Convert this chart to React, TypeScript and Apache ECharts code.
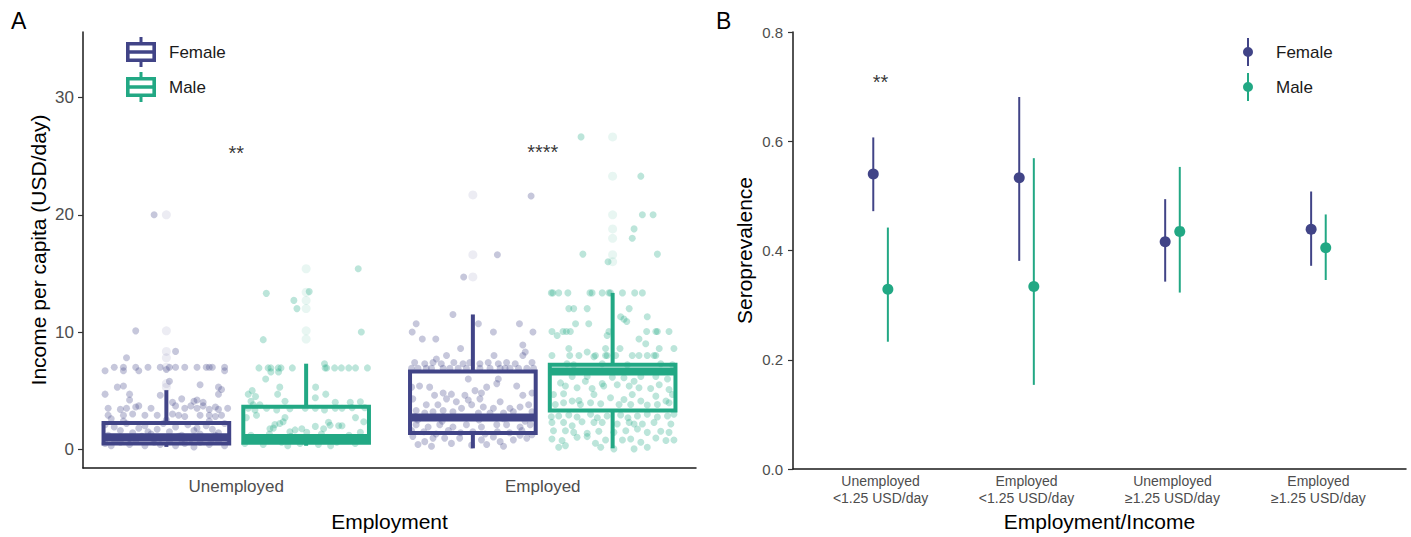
import React, { useEffect, useRef } from 'react';
import * as echarts from 'echarts';

// ---------- Data ----------
const categoriesA = ['Unemployed', 'Employed'];
const groupsA = ['Female', 'Male'];

// box stats: [min, q1, median, q3, max] per category
const femaleBox = [
  [0.2, 0.48, 1.02, 2.25, 5.04],
  [0.08, 1.39, 2.7, 6.63, 11.5],
];
const maleBox = [
  [0.3, 0.55, 0.95, 3.63, 7.3],
  [0.08, 3.31, 6.63, 7.22, 13.34],
];

// outliers per category
const femaleOutliers = [
  [20.0, 10.1, 8.35, 7.8, 7.0, 5.6, 5.3],
  [21.7, 16.6, 14.7],
];
const maleOutliers = [
  [15.4, 13.4, 12.7, 12.0, 10.1, 9.4],
  [26.65, 23.3, 20.0, 18.8, 18.0, 16.6, 16.0],
];

// jittered observations: [jitter, income]
const femaleUnemployedPts = [
  [-0.04, 20.0], [-0.10, 10.1], [0.03, 8.35], [-0.13, 7.8],
  [-0.17, 7.0], [-0.14, 7.0], [-0.10, 7.0], [-0.06, 7.0], [-0.02, 7.0], [0.01, 7.0], [0.03, 7.0], [0.06, 7.0], [0.10, 7.0], [0.13, 7.0], [0.14, 7.0], [0.15, 7.0], [0.19, 7.0],
  [-0.20, 6.7], [-0.14, 6.7], [-0.09, 6.7], [0.19, 6.7], [0.0, 6.8],
  [0.01, 5.8], [0.11, 5.5], [-0.16, 5.3], [-0.14, 5.4], [0.17, 5.3], [0.18, 5.1],
  [-0.20, 4.7], [-0.12, 4.7], [-0.02, 4.6], [0.17, 4.7],
  [-0.12, 4.2], [0.05, 4.3], [0.02, 4.0], [0.09, 4.1], [0.10, 4.2], [0.12, 4.0],
  [-0.19, 3.5], [-0.15, 3.4], [-0.13, 3.5], [-0.10, 3.6], [-0.09, 3.7], [-0.05, 3.5], [0.03, 3.7], [0.06, 3.5], [0.08, 3.7], [0.10, 3.5], [0.12, 3.7], [0.14, 3.4], [0.16, 3.6], [0.17, 3.4], [0.20, 3.5],
  [-0.19, 2.9], [-0.14, 2.9], [-0.11, 3.0], [-0.07, 2.9], [-0.03, 2.9], [0.02, 3.0], [0.04, 2.9], [0.06, 2.8], [0.11, 2.9], [0.14, 2.9], [0.16, 2.8], [0.18, 2.9], [-0.18, 2.6],
  [-0.14, 2.4], [0.0, 2.5], [0.14, 2.4],
  [-0.20, 2.1], [-0.17, 1.9], [-0.15, 1.6], [-0.13, 2.2], [-0.11, 1.4], [-0.09, 1.8], [-0.07, 2.0], [-0.05, 1.3], [-0.03, 1.7], [-0.01, 2.2], [0.01, 1.5], [0.03, 1.9], [0.05, 1.2], [0.07, 2.1], [0.09, 1.6], [0.11, 1.3], [0.13, 2.0], [0.15, 1.7], [0.17, 1.4], [0.19, 2.2], [-0.06, 1.5], [0.10, 1.8],
  [-0.19, 1.2], [-0.16, 1.0], [-0.12, 0.9], [-0.08, 1.1], [-0.04, 0.9], [0.0, 1.0], [0.04, 1.1], [0.08, 0.9], [0.12, 1.0], [0.16, 1.2], [0.20, 0.9],
  [-0.20, 0.5], [-0.18, 0.3], [-0.15, 0.6], [-0.12, 0.4], [-0.10, 0.7], [-0.07, 0.3], [-0.04, 0.6], [-0.02, 0.4], [0.01, 0.7], [0.03, 0.3], [0.06, 0.5], [0.09, 0.2], [0.11, 0.6], [0.14, 0.4], [0.17, 0.7], [0.19, 0.3], [-0.17, 0.8], [0.05, 0.8], [0.15, 0.9],
];

const maleUnemployedPts = [
  [0.17, 15.4], [-0.13, 13.3], [0.01, 13.45], [-0.04, 12.7], [-0.03, 12.0], [0.18, 10.0], [-0.14, 9.35],
  [-0.154, 6.94], [-0.124, 6.94], [-0.115, 6.94], [-0.091, 6.94], [-0.082, 6.94], [-0.045, 6.94], [0.062, 6.94], [0.067, 6.94], [0.093, 6.94], [0.115, 6.94], [0.139, 6.94], [0.161, 6.94], [0.2, 6.94], [0.06, 7.3], [-0.09, 6.6], [-0.115, 6.6],
  [-0.132, 6.0], [-0.086, 5.3], [0.031, 5.3], [-0.176, 5.0], [-0.189, 4.7], [-0.165, 4.5], [-0.093, 4.7], [0.03, 4.4], [0.064, 4.7],
  [-0.18, 4.1], [-0.173, 3.8], [-0.151, 3.8], [-0.069, 4.1], [0.095, 4.0], [0.144, 4.0], [0.177, 4.05],
  [-0.189, 3.5], [-0.167, 3.35], [-0.162, 2.9], [-0.129, 3.5], [-0.096, 3.35], [-0.053, 3.45], [-0.003, 3.5], [0.03, 3.5], [0.06, 3.35], [0.095, 3.5], [0.117, 3.5], [0.15, 3.55], [0.191, 3.55],
  [-0.195, 2.7], [-0.069, 2.7], [-0.075, 2.35], [-0.102, 2.1], [-0.118, 1.75], [-0.107, 1.8], [-0.053, 1.5], [-0.036, 1.65], [-0.014, 1.75], [0.002, 1.45], [0.03, 1.95], [0.073, 2.3], [0.078, 2.05], [0.106, 2.0], [0.117, 2.0], [0.161, 2.7], [0.188, 2.35], [0.057, 1.75], [-0.086, 2.2], [0.177, 1.45],
  [-0.2, 0.5], [-0.17, 0.8], [-0.14, 0.4], [-0.11, 0.9], [-0.08, 0.6], [-0.05, 1.1], [-0.02, 0.5], [0.01, 0.8], [0.04, 0.4], [0.07, 1.0], [0.10, 0.6], [0.13, 0.9], [0.16, 0.5], [0.19, 0.8], [-0.18, 1.2], [-0.12, 1.3], [0.05, 1.3], [0.14, 1.2], [-0.06, 0.3], [0.08, 0.3],
];

const femaleEmployedPts = [
  [0.19, 21.6], [0.08, 16.6], [-0.03, 14.7],
  [-0.065, 11.5], [-0.185, 10.7], [0.018, 10.7], [0.152, 10.7], [-0.198, 10.0], [0.067, 10.0], [0.196, 10.0],
  [-0.165, 9.4], [-0.121, 9.4], [-0.04, 8.6], [0.163, 8.9], [0.171, 8.3], [0.163, 8.0], [-0.086, 8.0], [-0.119, 7.7], [0.069, 8.0],
  [-0.19, 7.4], [-0.157, 7.3], [-0.13, 7.4], [-0.103, 7.3], [-0.062, 7.4], [-0.032, 7.3], [-0.01, 7.4], [0.023, 7.3], [0.05, 7.4], [0.083, 7.3], [0.11, 7.4], [0.138, 7.3], [0.193, 7.4],
  [-0.2, 6.9], [-0.179, 6.9], [-0.152, 6.9], [-0.135, 6.9], [-0.097, 6.9], [-0.075, 6.9], [-0.048, 6.9], [-0.021, 6.9], [0.023, 6.9], [0.056, 6.9], [0.089, 6.9], [0.105, 6.9], [0.121, 6.9], [0.149, 6.9], [0.176, 6.9], [0.198, 6.9],
  [-0.015, 6.0], [0.083, 6.0], [0.078, 5.6], [0.045, 5.3], [-0.2, 5.3], [-0.174, 5.4], [-0.141, 5.3], [-0.097, 4.8], [-0.07, 4.7], [-0.125, 4.6], [-0.026, 4.6], [0.028, 4.8], [0.007, 5.0], [0.143, 5.4], [0.163, 4.6], [0.193, 4.8],
  [-0.196, 4.3], [-0.152, 3.8], [-0.114, 3.8], [-0.086, 4.3], [-0.054, 4.05], [-0.015, 4.2], [0.023, 4.3], [0.034, 3.6], [0.089, 4.05], [0.121, 3.5], [0.154, 3.6], [0.182, 3.8],
  [-0.185, 3.3], [-0.157, 3.1], [-0.13, 3.2], [-0.097, 3.3], [-0.065, 3.2], [-0.037, 3.5], [-0.004, 3.8], [0.018, 3.1], [0.056, 3.1], [0.067, 3.5], [0.1, 3.1], [0.132, 3.2], [0.193, 3.2], [-0.19, 2.8],
  [-0.185, 2.1], [-0.146, 1.9], [-0.108, 2.1], [-0.065, 1.9], [-0.021, 2.1], [0.028, 1.9], [0.078, 2.1], [0.11, 2.1], [0.154, 1.9], [0.187, 2.1],
  [-0.2, 1.6], [-0.196, 1.1], [-0.179, 0.4], [-0.157, 0.65], [-0.135, 0.25], [-0.13, 0.95], [-0.092, 0.95], [-0.07, 0.5], [-0.043, 0.95], [-0.004, 0.35], [0.028, 0.8], [0.045, 0.4], [0.067, 1.05], [0.089, 0.65], [0.1, 0.25], [0.132, 0.8], [0.154, 1.2], [0.176, 0.95], [0.193, 1.25],
  [-0.16, 1.5], [-0.12, 1.3], [-0.08, 1.6], [-0.04, 1.4], [0.0, 1.5], [0.04, 1.3], [0.08, 1.5], [0.12, 1.4], [0.16, 1.6], [-0.18, 2.5], [-0.1, 2.4], [0.02, 2.5], [0.1, 2.6], [0.17, 2.4],
];

const maleEmployedPts = [
  [-0.103, 26.65], [0.092, 23.3], [0.097, 20.0], [0.132, 20.0], [0.07, 18.8], [0.064, 18.0], [-0.097, 16.65], [0.146, 16.65], [-0.015, 16.0],
  [-0.2, 13.34], [-0.195, 13.34], [-0.176, 13.34], [-0.146, 13.34], [-0.074, 13.34], [-0.067, 13.34], [-0.034, 13.34], [-0.012, 13.34], [-0.007, 13.34], [0.032, 13.34], [0.072, 13.34], [0.097, 13.34],
  [-0.143, 12.0], [-0.127, 12.0], [-0.083, 12.0], [0.054, 12.0],
  [0.026, 11.3], [0.037, 11.1], [0.046, 10.9], [0.113, 11.3], [-0.121, 10.7], [-0.078, 10.7],
  [-0.198, 10.05], [-0.162, 10.05], [-0.151, 10.05], [-0.138, 10.05], [-0.012, 10.05], [0.111, 10.05], [0.141, 10.05], [0.146, 10.05], [0.184, 10.05],
  [-0.181, 9.7], [-0.018, 9.7], [0.086, 9.4], [0.108, 9.0], [-0.143, 8.6], [0.024, 8.6], [0.152, 8.6], [0.2, 8.6], [-0.023, 8.6], [-0.083, 8.3], [-0.061, 7.9],
  [-0.198, 8.0], [-0.14, 8.0], [-0.11, 8.0], [-0.056, 8.0], [-0.023, 8.0], [-0.018, 8.0], [0.01, 8.0], [0.064, 8.0], [0.086, 8.0], [0.113, 8.0], [0.135, 8.0], [0.141, 8.0],
  [-0.149, 7.3], [-0.127, 7.2], [-0.034, 7.3], [0.048, 7.2], [0.157, 7.3], [0.195, 7.2],
  [-0.132, 6.2], [-0.083, 6.2], [-0.089, 5.8], [-0.034, 5.6], [-0.001, 6.15], [0.037, 6.1], [0.07, 5.8], [0.092, 6.2], [0.141, 6.2], [0.179, 6.0],
  [-0.17, 5.66], [-0.154, 5.4], [-0.116, 5.24], [-0.067, 5.18], [-0.029, 5.4], [0.015, 5.5], [0.054, 5.4], [0.086, 5.24], [0.124, 5.18], [0.152, 5.5], [0.184, 5.1],
  [-0.193, 4.67], [-0.16, 4.73], [-0.132, 4.11], [-0.11, 4.16], [-0.061, 4.67], [-0.007, 4.39], [0.037, 4.25], [0.064, 4.67], [0.092, 4.11], [0.141, 4.53], [0.174, 4.11], [0.195, 4.67],
  [-0.187, 3.82], [-0.16, 3.97], [-0.105, 3.82], [-0.072, 3.97], [-0.039, 3.88], [0.021, 3.82], [0.059, 3.82], [0.113, 3.77], [0.146, 3.82], [0.184, 3.97],
  [-0.2, 2.78], [-0.176, 2.83], [-0.143, 2.92], [-0.116, 2.75], [-0.072, 2.98], [-0.05, 2.69], [-0.018, 2.83], [0.026, 2.92], [0.05, 2.69], [0.081, 2.83], [0.113, 2.98], [0.146, 2.75], [0.179, 2.83], [0.2, 2.98],
  [-0.198, 2.29], [-0.16, 2.29], [-0.132, 2.0], [-0.1, 2.35], [-0.061, 2.29], [-0.034, 2.29], [0.015, 2.15], [0.054, 2.29], [0.07, 2.15], [0.097, 2.15], [0.135, 2.29], [0.19, 2.15],
  [-0.193, 1.58], [-0.154, 1.58], [-0.127, 1.44], [-0.083, 1.36], [-0.045, 1.53], [0.004, 1.44], [0.043, 1.58], [0.081, 1.72], [0.113, 1.44], [0.157, 1.53], [0.184, 1.44],
  [-0.198, 0.88], [-0.165, 0.74], [-0.154, 0.31], [-0.116, 1.02], [-0.083, 1.08], [-0.056, 0.51], [-0.023, 0.79], [0.032, 0.79], [0.059, 0.88], [0.092, 0.6], [0.141, 0.96], [0.174, 0.74], [0.2, 0.79],
  [-0.176, 0.17], [-0.039, 0.17], [0.004, 0.03], [0.07, 0.03], [0.113, 0.17],
];

const yTicksA = [0, 10, 20, 30];
const annotationsA = [
  { cat: 0, y: 25.3, text: '**' },
  { cat: 1, y: 25.4, text: '****' },
];

// Panel B
const categoriesB = [
  'Unemployed\n<1.25 USD/day',
  'Employed\n<1.25 USD/day',
  'Unemployed\n≥1.25 USD/day',
  'Employed\n≥1.25 USD/day',
];
const femaleEst = [0.540, 0.533, 0.416, 0.439];
const femaleLow = [0.472, 0.381, 0.343, 0.372];
const femaleHigh = [0.607, 0.681, 0.494, 0.508];
const maleEst = [0.329, 0.334, 0.435, 0.405];
const maleLow = [0.233, 0.154, 0.323, 0.346];
const maleHigh = [0.442, 0.569, 0.553, 0.466];
const annotationsB = [{ cat: 0, y: 0.708, text: '**' }];

// ---------- Styles ----------
const FEMALE = '#414487';
const MALE = '#22A884';
const FONT = '"Liberation Sans", Arial, Helvetica, sans-serif';
const DODGE_A = 0.228;
const BOX_HALF = 0.205;
const DODGE_B = 0.05;

const BOX_ICON =
  'path://M0,5 L30,5 L30,25 L0,25 Z M3.6,8.6 L3.6,13.2 L26.4,13.2 L26.4,8.6 Z M3.6,16.8 L3.6,21.4 L26.4,21.4 L26.4,16.8 Z M13.5,0 L16.5,0 L16.5,5 L13.5,5 Z M13.5,25 L16.5,25 L16.5,30 L13.5,30 Z';
const POINT_ICON =
  'path://M4,0 L6,0 L6,28 L4,28 Z M0,14 A5,5 0 1,1 10,14 A5,5 0 1,1 0,14 Z';

function boxRender(offset: number, color: string) {
  return (_params: any, api: any) => {
    const c = api.value(0) + offset;
    const lo = api.value(1), q1 = api.value(2), med = api.value(3), q3 = api.value(4), hi = api.value(5);
    const tl = api.coord([c - BOX_HALF, q3]);
    const br = api.coord([c + BOX_HALF, q1]);
    const m1 = api.coord([c - BOX_HALF, med]);
    const m2 = api.coord([c + BOX_HALF, med]);
    const top = api.coord([c, hi]);
    const bot = api.coord([c, lo]);
    const cq3 = api.coord([c, q3]);
    const cq1 = api.coord([c, q1]);
    return {
      type: 'group',
      children: [
        { type: 'line', shape: { x1: top[0], y1: top[1], x2: cq3[0], y2: cq3[1] }, style: { stroke: color, lineWidth: 4 } },
        { type: 'line', shape: { x1: cq1[0], y1: cq1[1], x2: bot[0], y2: bot[1] }, style: { stroke: color, lineWidth: 4 } },
        { type: 'rect', shape: { x: tl[0], y: tl[1], width: br[0] - tl[0], height: br[1] - tl[1] }, style: { fill: 'none', stroke: color, lineWidth: 4 } },
        { type: 'line', shape: { x1: m1[0], y1: m1[1], x2: m2[0], y2: m2[1] }, style: { stroke: color, lineWidth: 8 } },
      ],
    };
  };
}

function errRender(offset: number, color: string) {
  return (_params: any, api: any) => {
    const c = api.value(0) + offset;
    const p1 = api.coord([c, api.value(1)]);
    const p2 = api.coord([c, api.value(2)]);
    return { type: 'line', shape: { x1: p1[0], y1: p1[1], x2: p2[0], y2: p2[1] }, style: { stroke: color, lineWidth: 2 } };
  };
}

const jitterData = (cat: number, offset: number, pts: number[][]) => pts.map(([j, v]) => [cat + offset + j, v]);
const outlierData = (offset: number, outs: number[][]) =>
  outs.flatMap((vals, cat) => vals.map((v) => [cat + offset, v]));

function buildOption() {
  const axisLineStyle = { color: '#1a1a1a', width: 1.5 };
  const tickStyle = { color: '#333', width: 1.2 };
  return {
    animation: false,
    backgroundColor: '#fff',
    textStyle: { fontFamily: FONT },
    graphic: [
      { type: 'text', left: 11, top: 9, style: { text: 'A', fontSize: 23, fill: '#000', fontFamily: FONT } },
      { type: 'text', left: 716, top: 9, style: { text: 'B', fontSize: 23, fill: '#000', fontFamily: FONT } },
    ],
    legend: [
      {
        data: groupsA.map((n) => ({ name: n, icon: BOX_ICON })),
        orient: 'vertical',
        left: 126,
        top: 37,
        padding: 0,
        itemWidth: 30,
        itemHeight: 30,
        itemGap: 5,
        selectedMode: false,
        itemStyle: { opacity: 1, borderWidth: 0 },
        textStyle: { fontSize: 17, color: '#1a1a1a', fontFamily: FONT, padding: [0, 0, 0, 8] },
      },
      {
        data: groupsA.map((n) => ({ name: n, icon: POINT_ICON })),
        orient: 'vertical',
        left: 1243,
        top: 38,
        padding: 0,
        itemWidth: 10,
        itemHeight: 28,
        itemGap: 7,
        selectedMode: false,
        itemStyle: { opacity: 1, borderWidth: 0 },
        textStyle: { fontSize: 17, color: '#1a1a1a', fontFamily: FONT, padding: [0, 0, 0, 18] },
      },
    ],
    grid: [
      { left: 83, right: 715, top: 32, bottom: 67 },
      { left: 793, right: 5, top: 32, bottom: 66 },
    ],
    xAxis: [
      {
        gridIndex: 0,
        type: 'value',
        min: -0.5,
        max: 1.5,
        axisLine: { show: true, onZero: false, lineStyle: axisLineStyle },
        axisTick: { show: false },
        splitLine: { show: false },
        axisLabel: {
          customValues: [0, 1],
          formatter: (v: number) => categoriesA[Math.round(v)],
          color: '#4d4d4d',
          fontSize: 17,
          margin: 10,
        },
        name: 'Employment',
        nameLocation: 'middle',
        nameGap: 43,
        nameTextStyle: { fontSize: 21, color: '#000', fontFamily: FONT },
      },
      {
        gridIndex: 1,
        type: 'value',
        min: -0.6,
        max: 3.6,
        axisLine: { show: true, onZero: false, lineStyle: axisLineStyle },
        axisTick: { show: false },
        splitLine: { show: false },
        axisLabel: {
          customValues: [0, 1, 2, 3],
          formatter: (v: number) => categoriesB[Math.round(v)],
          color: '#4d4d4d',
          fontSize: 14,
          lineHeight: 16.5,
          margin: 4,
        },
        name: 'Employment/Income',
        nameLocation: 'middle',
        nameGap: 42,
        nameTextStyle: { fontSize: 21, color: '#000', fontFamily: FONT },
      },
    ],
    yAxis: [
      {
        gridIndex: 0,
        type: 'value',
        min: -1.6,
        max: 35.6,
        axisLine: { show: true, onZero: false, lineStyle: axisLineStyle },
        axisTick: { show: true, customValues: yTicksA, length: 5, lineStyle: tickStyle },
        axisLabel: { customValues: yTicksA, color: '#4d4d4d', fontSize: 17, margin: 9 },
        splitLine: { show: false },
        name: 'Income per capita (USD/day)',
        nameLocation: 'middle',
        nameGap: 34,
        nameTextStyle: { fontSize: 21, color: '#000', fontFamily: FONT },
      },
      {
        gridIndex: 1,
        type: 'value',
        min: 0,
        max: 0.8,
        interval: 0.2,
        axisLine: { show: true, onZero: false, lineStyle: axisLineStyle },
        axisTick: { show: true, length: 5, lineStyle: tickStyle },
        axisLabel: { formatter: (v: number) => v.toFixed(1), color: '#4d4d4d', fontSize: 15, margin: 10 },
        splitLine: { show: false },
        name: 'Seroprevalence',
        nameLocation: 'middle',
        nameGap: 38,
        nameTextStyle: { fontSize: 21, color: '#000', fontFamily: FONT },
      },
    ],
    series: [
      {
        name: 'Female',
        type: 'custom',
        xAxisIndex: 0,
        yAxisIndex: 0,
        z: 4,
        silent: true,
        itemStyle: { color: FEMALE },
        renderItem: boxRender(-DODGE_A, FEMALE),
        encode: { x: 0, y: [1, 2, 3, 4, 5] },
        data: femaleBox.map((b, i) => [i, ...b]),
      },
      {
        name: 'Male',
        type: 'custom',
        xAxisIndex: 0,
        yAxisIndex: 0,
        z: 4,
        silent: true,
        itemStyle: { color: MALE },
        renderItem: boxRender(DODGE_A, MALE),
        encode: { x: 0, y: [1, 2, 3, 4, 5] },
        data: maleBox.map((b, i) => [i, ...b]),
      },
      {
        name: 'Female',
        type: 'scatter',
        xAxisIndex: 0,
        yAxisIndex: 0,
        z: 2,
        silent: true,
        symbolSize: 7,
        itemStyle: { color: FEMALE, opacity: 0.3 },
        data: [...jitterData(0, -DODGE_A, femaleUnemployedPts), ...jitterData(1, -DODGE_A, femaleEmployedPts)],
      },
      {
        name: 'Male',
        type: 'scatter',
        xAxisIndex: 0,
        yAxisIndex: 0,
        z: 2,
        silent: true,
        symbolSize: 7,
        itemStyle: { color: MALE, opacity: 0.3 },
        data: [...jitterData(0, DODGE_A, maleUnemployedPts), ...jitterData(1, DODGE_A, maleEmployedPts)],
      },
      {
        name: 'Female',
        type: 'scatter',
        xAxisIndex: 0,
        yAxisIndex: 0,
        z: 3,
        silent: true,
        symbolSize: 9,
        itemStyle: { color: FEMALE, opacity: 0.1 },
        data: outlierData(-DODGE_A, femaleOutliers),
      },
      {
        name: 'Male',
        type: 'scatter',
        xAxisIndex: 0,
        yAxisIndex: 0,
        z: 3,
        silent: true,
        symbolSize: 9,
        itemStyle: { color: MALE, opacity: 0.1 },
        data: outlierData(DODGE_A, maleOutliers),
      },
      {
        name: 'annotA',
        type: 'scatter',
        xAxisIndex: 0,
        yAxisIndex: 0,
        silent: true,
        symbolSize: 1,
        itemStyle: { color: 'transparent' },
        label: { show: true, position: 'inside', color: '#000', fontSize: 20, fontFamily: FONT },
        data: annotationsA.map((a) => ({ value: [a.cat, a.y], label: { formatter: a.text } })),
      },
      // Panel B
      {
        name: 'Female',
        type: 'custom',
        xAxisIndex: 1,
        yAxisIndex: 1,
        silent: true,
        itemStyle: { color: FEMALE },
        renderItem: errRender(-DODGE_B, FEMALE),
        encode: { x: 0, y: [1, 2] },
        data: femaleEst.map((_, i) => [i, femaleLow[i], femaleHigh[i]]),
      },
      {
        name: 'Male',
        type: 'custom',
        xAxisIndex: 1,
        yAxisIndex: 1,
        silent: true,
        itemStyle: { color: MALE },
        renderItem: errRender(DODGE_B, MALE),
        encode: { x: 0, y: [1, 2] },
        data: maleEst.map((_, i) => [i, maleLow[i], maleHigh[i]]),
      },
      {
        name: 'Female',
        type: 'scatter',
        xAxisIndex: 1,
        yAxisIndex: 1,
        silent: true,
        z: 3,
        symbolSize: 11,
        itemStyle: { color: FEMALE, opacity: 1 },
        data: femaleEst.map((v, i) => [i - DODGE_B, v]),
      },
      {
        name: 'Male',
        type: 'scatter',
        xAxisIndex: 1,
        yAxisIndex: 1,
        silent: true,
        z: 3,
        symbolSize: 11,
        itemStyle: { color: MALE, opacity: 1 },
        data: maleEst.map((v, i) => [i + DODGE_B, v]),
      },
      {
        name: 'annotB',
        type: 'scatter',
        xAxisIndex: 1,
        yAxisIndex: 1,
        silent: true,
        symbolSize: 1,
        itemStyle: { color: 'transparent' },
        label: { show: true, position: 'inside', color: '#000', fontSize: 20, fontFamily: FONT },
        data: annotationsB.map((a) => ({ value: [a.cat, a.y], label: { formatter: a.text } })),
      },
    ],
  };
}

export default function App() {
  const ref = useRef<HTMLDivElement>(null);
  useEffect(() => {
    if (!ref.current) return;
    const chart = echarts.init(ref.current, null, { renderer: 'svg' });
    chart.setOption(buildOption() as any);
    return () => chart.dispose();
  }, []);
  return (
    <div
      ref={ref}
      style={{ position: 'fixed', left: 0, top: 0, width: 1411, height: 537, background: '#fff' }}
    />
  );
}
